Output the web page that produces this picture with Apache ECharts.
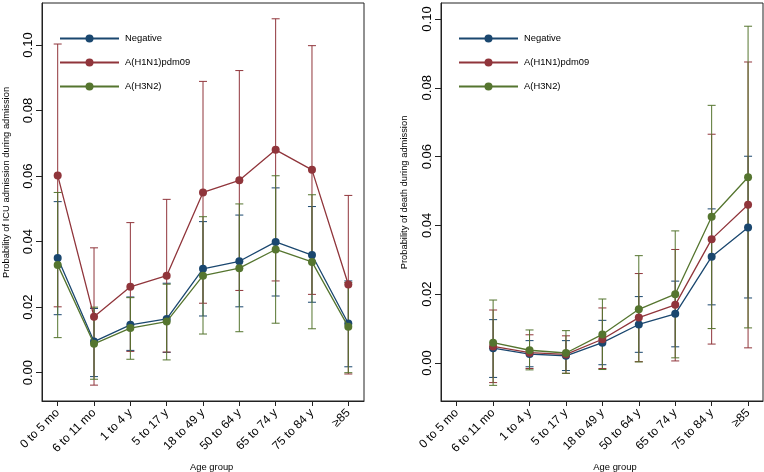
<!DOCTYPE html>
<html><head><meta charset="utf-8">
<script src="https://cdn.jsdelivr.net/npm/echarts@6/dist/echarts.min.js"></script>
<style>html,body{margin:0;padding:0;background:#fff}#c{width:764px;height:472px}</style>
</head><body><div id="c"></div>
<script>
const categories = ['0 to 5 mo','6 to 11 mo','1 to 4 y','5 to 17 y','18 to 49 y','50 to 64 y','65 to 74 y','75 to 84 y','\u226585'];
const seriesNames = ['Negative','A(H1N1)pdm09','A(H3N2)'];
const yTicks = [0, 0.02, 0.04, 0.06, 0.08, 0.10];
const xTicks = [0,1,2,3,4,5,6,7,8];

// Probability of ICU admission (left panel)
const icuNegative     = [0.0350,0.0095,0.0146,0.0164,0.0317,0.0340,0.0399,0.0359,0.0150];
const icuNegativeLow  = [0.0177,-0.0012,0.0068,0.0062,0.0173,0.0201,0.0234,0.0215,0.0018];
const icuNegativeHigh = [0.0522,0.0196,0.0231,0.0273,0.0461,0.0481,0.0564,0.0507,0.0280];
const icuH1N1     = [0.0602,0.0171,0.0262,0.0296,0.0550,0.0587,0.0680,0.0619,0.0269];
const icuH1N1Low  = [0.0201,-0.0038,0.0065,0.0063,0.0212,0.0251,0.0280,0.0239,-0.0004];
const icuH1N1High = [0.1003,0.0381,0.0458,0.0529,0.0889,0.0922,0.1080,0.0998,0.0541];
const icuH3N2     = [0.0329,0.0088,0.0136,0.0156,0.0296,0.0319,0.0376,0.0338,0.0140];
const icuH3N2Low  = [0.0107,-0.0020,0.0041,0.0039,0.0118,0.0125,0.0151,0.0134,0.0000];
const icuH3N2High = [0.0550,0.0200,0.0229,0.0270,0.0476,0.0515,0.0601,0.0543,0.0275];

// Probability of death (right panel); no estimate for 0 to 5 mo
const deathNegative     = [null,0.0043,0.0026,0.0021,0.0059,0.0112,0.0143,0.0309,0.0394];
const deathNegativeLow  = [null,-0.0042,-0.0011,-0.0022,-0.0005,0.0031,0.0047,0.0169,0.0189];
const deathNegativeHigh = [null,0.0126,0.0065,0.0065,0.0124,0.0193,0.0238,0.0448,0.0601];
const deathH1N1     = [null,0.0048,0.0030,0.0025,0.0069,0.0132,0.0169,0.0360,0.0460];
const deathH1N1Low  = [null,-0.0057,-0.0016,-0.0030,-0.0016,0.0004,0.0006,0.0055,0.0044];
const deathH1N1High = [null,0.0154,0.0082,0.0079,0.0160,0.0260,0.0330,0.0665,0.0875];
const deathH3N2     = [null,0.0059,0.0037,0.0029,0.0083,0.0156,0.0200,0.0425,0.0540];
const deathH3N2Low  = [null,-0.0065,-0.0020,-0.0030,-0.0019,0.0003,0.0015,0.0100,0.0102];
const deathH3N2High = [null,0.0183,0.0096,0.0094,0.0186,0.0312,0.0384,0.0749,0.0979];

const colors = ['#1a476f','#90353b','#55752f'];
const FONT = '"Liberation Sans", Arial, Helvetica, sans-serif';

function pts(v){ return v.map((y,i)=>y==null?null:[i,y]).filter(Boolean); }
function bars(lo,hi){ return lo.map((l,i)=>l==null?null:[i,l,hi[i]]).filter(Boolean); }

function errRender(params, api){
  const x = api.value(0);
  const p1 = api.coord([x, api.value(1)]);
  const p2 = api.coord([x, api.value(2)]);
  const hw = 4;
  const style = {stroke: api.visual('color'), lineWidth: 1};
  return {type:'group', children:[
    {type:'line', shape:{x1:p1[0],y1:p1[1],x2:p2[0],y2:p2[1]}, style:style},
    {type:'line', shape:{x1:p1[0]-hw,y1:p1[1],x2:p1[0]+hw,y2:p1[1]}, style:style},
    {type:'line', shape:{x1:p2[0]-hw,y1:p2[1],x2:p2[0]+hw,y2:p2[1]}, style:style}
  ]};
}

const panels = [
  {vals:[icuNegative,icuH1N1,icuH3N2], lo:[icuNegativeLow,icuH1N1Low,icuH3N2Low], hi:[icuNegativeHigh,icuH1N1High,icuH3N2High]},
  {vals:[deathNegative,deathH1N1,deathH3N2], lo:[deathNegativeLow,deathH1N1Low,deathH3N2Low], hi:[deathNegativeHigh,deathH1N1High,deathH3N2High]}
];

const series = [];
panels.forEach((p,pi)=>{
  for(let s=0;s<3;s++){
    series.push({type:'custom', xAxisIndex:pi, yAxisIndex:pi, renderItem:errRender,
      itemStyle:{color:colors[s]}, data:bars(p.lo[s],p.hi[s]), encode:{x:0,y:[1,2]}, z:1, clip:false, silent:true});
  }
  for(let s=0;s<3;s++){
    series.push({type:'line', name:seriesNames[s], xAxisIndex:pi, yAxisIndex:pi, data:pts(p.vals[s]),
      symbol:'circle', symbolSize:8, showSymbol:true, z:2+s,
      lineStyle:{color:colors[s], width:1.3}, itemStyle:{color:colors[s], borderWidth:0}});
  }
});

function xAxis(gi, min, max){
  return {gridIndex:gi, type:'value', min:min, max:max, splitLine:{show:false},
    axisLine:{show:true, onZero:false, lineStyle:{color:'#222', width:1}},
    axisTick:{show:true, customValues:xTicks, length:5, lineStyle:{color:'#222'}},
    axisLabel:{customValues:xTicks, rotate:45, margin:10, fontSize:12, fontFamily:FONT, color:'#000',
      formatter:v=>categories[Math.round(v)]}};
}
function yAxis(gi, min, max){
  return {gridIndex:gi, type:'value', min:min, max:max, splitLine:{show:false},
    axisLine:{show:true, onZero:false, lineStyle:{color:'#222', width:1}},
    axisTick:{show:true, customValues:yTicks, length:6, lineStyle:{color:'#222'}},
    axisLabel:{customValues:yTicks, rotate:90, margin:7, fontSize:13, fontFamily:FONT, color:'#000',
      formatter:v=>v.toFixed(2)}};
}
function legend(left){
  return {data:seriesNames, orient:'vertical', left:left, top:28.5, itemWidth:59, itemHeight:10, itemGap:14,
    selectedMode:false, textStyle:{fontSize:9.4, fontFamily:FONT, color:'#000', lineHeight:10, padding:[0,0,0,1]}};
}

const chart = echarts.init(document.getElementById('c'), null, {renderer:'canvas'});
chart.setOption({
  animation:false,
  backgroundColor:'#fff',
  grid:[
    {left:42, top:3, width:322, height:398, show:true, borderColor:'#222', borderWidth:1},
    {left:441, top:3, width:322, height:398, show:true, borderColor:'#222', borderWidth:1}
  ],
  xAxis:[xAxis(0,-0.432,8.432), xAxis(1,-0.431,8.41)],
  yAxis:[yAxis(0,-0.00864,0.11282), yAxis(1,-0.01105,0.10465)],
  legend:[legend(54), legend(453)],
  graphic:[
    {type:'text', x:6.5, y:182.5, rotation:Math.PI/2, style:{text:'Probability of ICU admission during admission', fontSize:9.4, fontFamily:FONT, fill:'#000', align:'center', verticalAlign:'middle'}},
    {type:'text', x:404.7, y:192.5, rotation:Math.PI/2, style:{text:'Probability of death during admission', fontSize:9.4, fontFamily:FONT, fill:'#000', align:'center', verticalAlign:'middle'}},
    {type:'text', x:211.7, y:467, style:{text:'Age group', fontSize:9.4, fontFamily:FONT, fill:'#000', align:'center', verticalAlign:'middle'}},
    {type:'text', x:615, y:467, style:{text:'Age group', fontSize:9.4, fontFamily:FONT, fill:'#000', align:'center', verticalAlign:'middle'}}
  ],
  series:series
});
</script></body></html>
